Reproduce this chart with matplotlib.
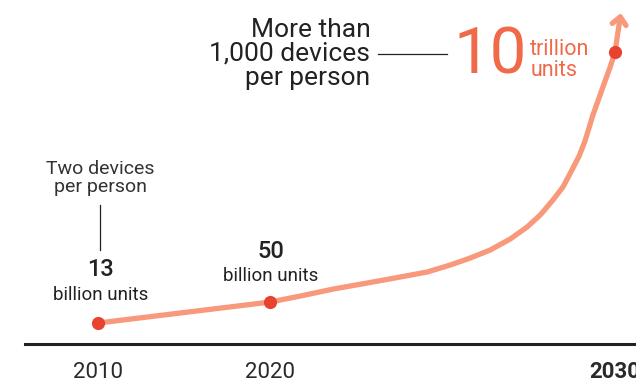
import numpy as np
import matplotlib
matplotlib.use("Agg")
import matplotlib.pyplot as plt

# milestones
years = [2010, 2020, 2030]
year_labels = ["2010", "2020", "2030"]
unit_numbers = ["13", "50", "10"]
unit_words = ["billion units", "billion units", "trillion\nunits"]
point_heights = [21, 42, 292]          # drawn height of each milestone above the baseline

# hand-drawn growth curve (year, height above baseline)
curve_years = [2010.0, 2020.0, 2020.87, 2021.83, 2022.81, 2023.77, 2024.55,
               2025.22, 2025.80, 2026.38, 2026.96, 2027.45, 2027.83, 2028.20,
               2028.49, 2028.72, 2028.96, 2029.13, 2029.36, 2029.65, 2029.86,
               2030.0]
curve_heights = [21, 42, 48, 55, 61, 67, 72, 79, 86, 94, 105, 117, 129, 144,
                 157, 172, 188, 203, 229, 257, 277, 292]
arrow_tip = (2030.17, 331)

LINE = "#F7997A"
DOT = "#E8432F"
BIG = "#F06A4A"
DARK = "#222222"

plt.rcParams["font.family"] = ["Roboto", "DejaVu Sans"]

# the second decade is drawn about twice as wide as the first
K = 2.0
def fwd(x):
    x = np.asarray(x, dtype=float)
    return np.where(x <= 2020, x - 2020, (x - 2020) * K)

def inv(y):
    y = np.asarray(y, dtype=float)
    return np.where(y <= 0, y + 2020, y / K + 2020)

fig = plt.figure(figsize=(6.36, 3.81), dpi=100)
ax = fig.add_axes([0, 0, 1, 1])
ax.set_xscale("function", functions=(fwd, inv))
ax.set_xlim(2004.3, 2030.61)
ax.set_ylim(-37, 344)
ax.axis("off")

# baseline
ax.axhline(0, xmin=25 / 636, xmax=1, color=DARK, lw=2.2)

# curve + arrow head
ax.plot(curve_years, curve_heights, color=LINE, lw=3.8,
        solid_capstyle="round", solid_joinstyle="round", zorder=2)
ax.annotate("", xy=arrow_tip, xytext=(curve_years[-1], curve_heights[-1]),
            arrowprops=dict(arrowstyle="->,head_length=0.55,head_width=0.5",
                            color=LINE, lw=3.8, shrinkA=0, shrinkB=0),
            zorder=2)

ax.plot(years, point_heights, "o", color=DOT, ms=9.5, mec="none", zorder=3)

# year labels
for yr, lab in zip(years, year_labels):
    ax.text(yr, -28, lab, ha="center", va="center", fontsize=16,
            color="#2a2a2a", fontweight="bold" if yr == 2030 else "normal")

# 2010 / 2020 labels
ax.text(years[0] + 0.12, 74, unit_numbers[0], ha="center", va="center",
        fontsize=17, color=DARK, fontweight="medium")
ax.text(years[0] + 0.12, 49, unit_words[0], ha="center", va="center",
        fontsize=13.5, color=DARK)
ax.text(years[1], 92, unit_numbers[1], ha="center", va="center",
        fontsize=17, color=DARK, fontweight="medium")
ax.text(years[1], 68, unit_words[1], ha="center", va="center",
        fontsize=13.5, color=DARK)

ax.text(years[0] + 0.12, 166, "Two devices\nper person", ha="center",
        va="center", fontsize=14, color="#333333", fontweight="normal",
        linespacing=1.0)
ax.plot([years[0] + 0.12] * 2, [94, 139], color=DARK, lw=0.9)

# 2030 labels
ax.text(2022.9, 290, "More than\n1,000 devices\nper person", ha="right",
        va="center", fontsize=19, color=DARK, linespacing=0.98)
ax.plot([2023.13, 2025.13], [290, 290], color=DARK, lw=0.9)
ax.text(2025.3, 289, unit_numbers[2], ha="left", va="center",
        fontsize=47, color=BIG)
ax.text(2027.54, 284, unit_words[2], ha="left", va="center",
        fontsize=15.5, color=BIG, linespacing=1.05)

fig.savefig("out.png", dpi=100)
